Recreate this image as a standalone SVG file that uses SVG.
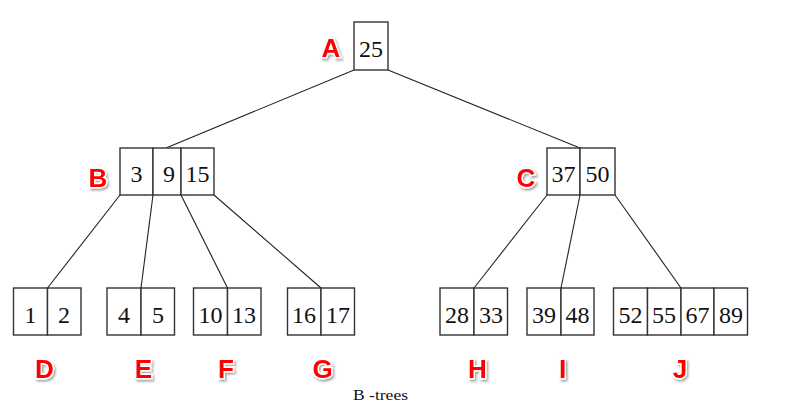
<svg xmlns="http://www.w3.org/2000/svg" width="786" height="409" viewBox="0 0 786 409">
<defs>
<style>
.box{fill:#fff;stroke:#333;stroke-width:1.4}
.num{font-family:"Liberation Serif","Times New Roman",serif;font-size:24px;fill:#111;text-anchor:middle}
.lbl{font-family:"Liberation Sans",Arial,sans-serif;font-weight:bold;font-size:26px;fill:#f00;text-anchor:middle;stroke:#fff;stroke-width:3;paint-order:stroke;filter:url(#sh)}
.edge{stroke:#222;stroke-width:1.1;fill:none}
</style>
<filter id="sh" x="-30%" y="-30%" width="160%" height="160%">
<feDropShadow dx="1.5" dy="2" stdDeviation="1.2" flood-color="#000" flood-opacity="0.35"/>
</filter>
</defs>
<rect width="786" height="409" fill="#fff"/>
<g id="connectors">
<line class="edge" x1="354" y1="70" x2="166" y2="148"/>
<line class="edge" x1="388" y1="70" x2="580" y2="148"/>
<line class="edge" x1="120" y1="195" x2="47.5" y2="288"/>
<line class="edge" x1="153" y1="195" x2="141" y2="288"/>
<line class="edge" x1="181" y1="195" x2="227.5" y2="288"/>
<line class="edge" x1="214" y1="195" x2="321" y2="288"/>
<line class="edge" x1="547" y1="195" x2="474" y2="288"/>
<line class="edge" x1="580" y1="195" x2="561" y2="288"/>
<line class="edge" x1="615" y1="195" x2="681" y2="288"/>
</g>
<g id="A">
<rect class="box" x="354" y="22" width="34" height="48"/>
<text class="num" x="371" y="57">25</text>
<text class="lbl" x="331" y="57">A</text>
</g>
<g id="B">
<rect class="box" x="120" y="148" width="33" height="47"/>
<rect class="box" x="153" y="148" width="28" height="47"/>
<rect class="box" x="181" y="148" width="33" height="47"/>
<text class="num" x="136.5" y="182">3</text>
<text class="num" x="169" y="182">9</text>
<text class="num" x="197.5" y="182">15</text>
<text class="lbl" x="98" y="187">B</text>
</g>
<g id="C">
<rect class="box" x="547" y="148" width="33" height="47"/>
<rect class="box" x="580" y="148" width="35" height="47"/>
<text class="num" x="563.5" y="182">37</text>
<text class="num" x="597.5" y="182">50</text>
<text class="lbl" x="526" y="187">C</text>
</g>
<g id="D">
<rect class="box" x="13.5" y="288" width="34" height="47"/>
<rect class="box" x="47.5" y="288" width="33.5" height="47"/>
<text class="num" x="30.5" y="323">1</text>
<text class="num" x="64" y="323">2</text>
<text class="lbl" x="44.5" y="378">D</text>
</g>
<g id="E">
<rect class="box" x="107" y="288" width="34" height="47"/>
<rect class="box" x="141" y="288" width="33.5" height="47"/>
<text class="num" x="124" y="323">4</text>
<text class="num" x="158" y="323">5</text>
<text class="lbl" x="143.5" y="378">E</text>
</g>
<g id="F">
<rect class="box" x="193.5" y="288" width="34" height="47"/>
<rect class="box" x="227.5" y="288" width="33.5" height="47"/>
<text class="num" x="210.5" y="323">10</text>
<text class="num" x="244" y="323">13</text>
<text class="lbl" x="226" y="378">F</text>
</g>
<g id="G">
<rect class="box" x="287.5" y="288" width="33.5" height="47"/>
<rect class="box" x="321" y="288" width="33.5" height="47"/>
<text class="num" x="304" y="323">16</text>
<text class="num" x="338" y="323">17</text>
<text class="lbl" x="322.5" y="378">G</text>
</g>
<g id="H">
<rect class="box" x="440" y="288" width="34" height="47"/>
<rect class="box" x="474" y="288" width="33.5" height="47"/>
<text class="num" x="457" y="323">28</text>
<text class="num" x="491" y="323">33</text>
<text class="lbl" x="477.5" y="378">H</text>
</g>
<g id="I">
<rect class="box" x="527" y="288" width="34" height="47"/>
<rect class="box" x="561" y="288" width="33" height="47"/>
<text class="num" x="544" y="323">39</text>
<text class="num" x="577.5" y="323">48</text>
<text class="lbl" x="562.5" y="378">I</text>
</g>
<g id="J">
<rect class="box" x="613.5" y="288" width="34" height="47"/>
<rect class="box" x="647.5" y="288" width="33.5" height="47"/>
<rect class="box" x="681" y="288" width="33" height="47"/>
<rect class="box" x="714" y="288" width="33.5" height="47"/>
<text class="num" x="630.5" y="323">52</text>
<text class="num" x="664" y="323">55</text>
<text class="num" x="697.5" y="323">67</text>
<text class="num" x="731" y="323">89</text>
<text class="lbl" x="680" y="378">J</text>
</g>
<text x="353" y="400" font-family="'Liberation Serif','Times New Roman',serif" font-size="14" fill="#111" textLength="55" lengthAdjust="spacingAndGlyphs">B -trees</text>
</svg>
